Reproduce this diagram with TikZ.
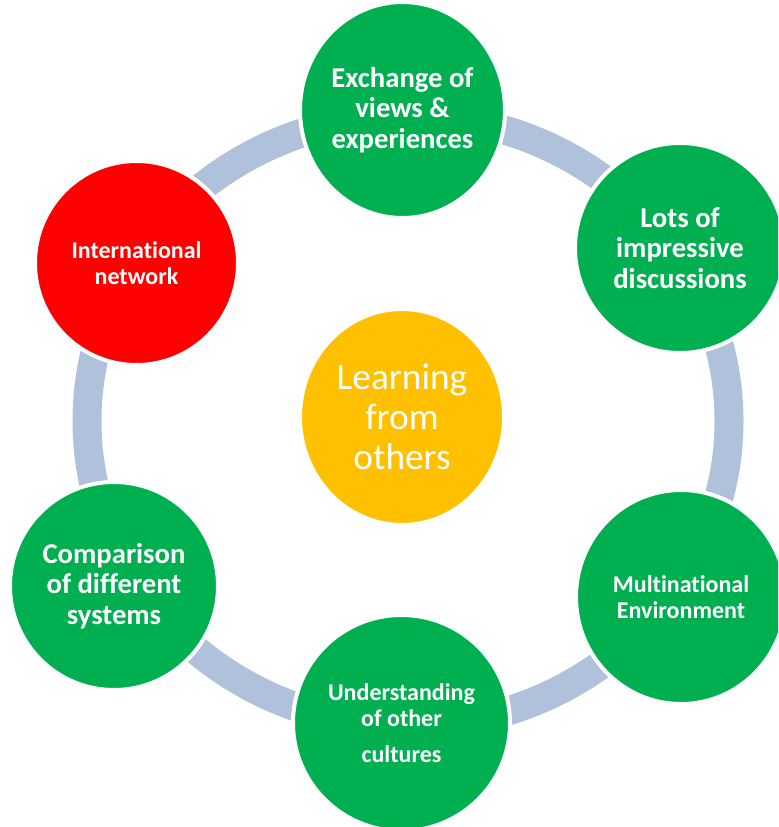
\documentclass[tikz,border=0pt]{standalone}
\usepackage{fontspec}
\setmainfont{Carlito}[Ligatures=NoCommon]
\usetikzlibrary{shapes.geometric}

\definecolor{ringblue}{RGB}{176,193,220}
\definecolor{bubblegreen}{RGB}{0,176,80}
\definecolor{bubblered}{RGB}{255,0,0}
\definecolor{bubbleyellow}{RGB}{255,192,0}

\tikzset{every picture/.style={line width=0.75pt}}
\tikzset{
  bubble/.style={ellipse, draw=white, line width=3pt, inner sep=0pt, text=white, align=center},
  bigtext/.style={font=\bfseries\fontsize{21.5}{22.9}\selectfont},
  smalltext/.style={font=\bfseries\fontsize{18}{19.5}\selectfont},
}

\begin{document}
\begin{tikzpicture}[x=0.75pt,y=0.75pt,yscale=-1,xscale=1]
	\useasboundingbox (0,0) rectangle (778,827);
	\clip (0,0) rectangle (778,827);
	
	%Shape: Ring
	\draw [color=ringblue, line width=21.75pt] (408,421) ellipse [x radius=321, y radius=305];
	
	%Shape: Ellipse [top]
	\node [bubble, bigtext, fill=bubblegreen, minimum width=153.75pt, minimum height=162pt] (exchange) at (402.5,110) {Exchange of\\views \&\\experiences};
	%Shape: Ellipse [top right]
	\node [bubble, bigtext, fill=bubblegreen, minimum width=157.5pt, minimum height=157.5pt] (lots) at (680,248) {Lots of\\impressive\\discussions};
	%Shape: Ellipse [bottom right]
	\node [bubble, smalltext, fill=bubblegreen, minimum width=157.5pt, minimum height=160.5pt] (multinational) at (681,597) {Multinational\\Environment};
	%Shape: Ellipse [bottom]
	\node [bubble, smalltext, fill=bubblegreen, minimum width=162.75pt, minimum height=162pt] (understanding) at (401.5,723) {Understanding\\of other\\[7.5pt]cultures};
	%Shape: Ellipse [bottom left]
	\node [bubble, bigtext, fill=bubblegreen, minimum width=156pt, minimum height=156pt] (comparison) at (114,586) {Comparison\\of different\\systems};
	%Shape: Ellipse [top left]
	\node [bubble, smalltext, fill=bubblered, minimum width=152.25pt, minimum height=153pt] (international) at (136.5,263) {International\\network};
	
	%Shape: Ellipse [centre]
	\node [bubble, fill=bubbleyellow, font=\fontsize{28}{30}\selectfont, minimum width=153pt, minimum height=162pt] (learning) at (402,417) {Learning\\from\\others};
	
\end{tikzpicture}
\end{document}
